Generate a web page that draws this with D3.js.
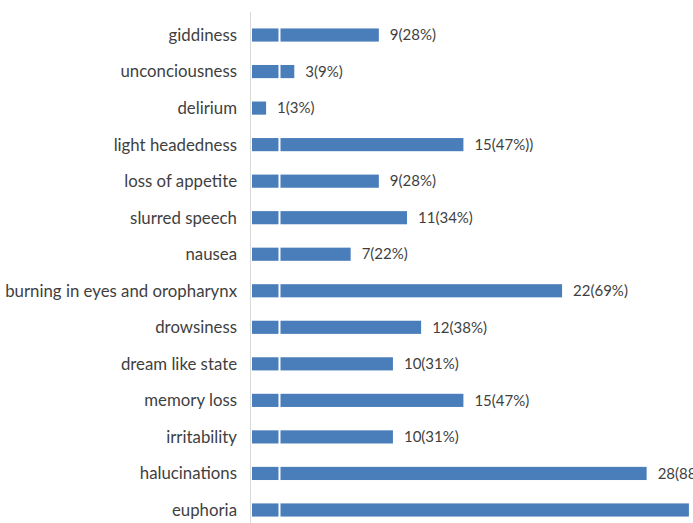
<!DOCTYPE html>
<html>
<head>
<meta charset="utf-8">
<title>Symptoms</title>
<style>
  body { margin: 0; background: #fff; }
  svg { display: block; overflow: hidden; }
  .cat { font-family: Lato, sans-serif; font-size: 16px; fill: #3f3f3f; }
  .val { font-family: Lato, sans-serif; font-size: 15px; fill: #3f3f3f; }
</style>
</head>
<body>
<div id="chart"></div>
<script src="https://d3js.org/d3.v7.min.js"></script>
<script>
// data, top to bottom
var symptoms = ["giddiness", "unconciousness", "delirium", "light headedness",
  "loss of appetite", "slurred speech", "nausea", "burning in eyes and oropharynx",
  "drowsiness", "dream like state", "memory loss", "irritability",
  "halucinations", "euphoria"];
var counts = [9, 3, 1, 15, 9, 11, 7, 22, 12, 10, 15, 10, 28, 31];
var labels = ["9(28%)", "3(9%)", "1(3%)", "15(47%))", "9(28%)", "11(34%)", "7(22%)",
  "22(69%)", "12(38%)", "10(31%)", "15(47%)", "10(31%)", "28(88%)", "31(97%)"];

var width = 693, height = 523;
var barColor = "#4a7ebb";
var labelRight = 237, labelLeft = 5;

var svg = d3.select("#chart").append("svg")
    .attr("width", width)
    .attr("height", height);

var x = d3.scaleLinear().domain([0, 32]).range([252, 703]);
var y = d3.scaleBand().domain(symptoms).range([16.75, 528.25])
    .paddingInner(0.64).paddingOuter(0.32);

var rows = symptoms.map(function(d, i){ return {name: d, v: counts[i], label: labels[i]}; });

// axis line
svg.append("line")
    .attr("x1", x(0) - 1.5).attr("x2", x(0) - 1.5)
    .attr("y1", 12).attr("y2", height)
    .attr("stroke", "#d9d9d9").attr("stroke-width", 1);

svg.selectAll(".bar")
    .data(rows)
    .enter().append("rect")
    .attr("class", "bar")
    .attr("x", x(0))
    .attr("y", function(d){ return y(d.name); })
    .attr("width", function(d){ return x(d.v) - x(0); })
    .attr("height", y.bandwidth())
    .attr("fill", barColor);

// thin white split that runs through every bar
svg.append("line")
    .attr("x1", x(1.95)).attr("x2", x(1.95))
    .attr("y1", 0).attr("y2", height)
    .attr("stroke", "#fff").attr("stroke-width", 2);

var cats = svg.selectAll(".cat")
    .data(rows)
    .enter().append("text")
    .attr("class", "cat")
    .attr("x", labelRight)
    .attr("y", function(d){ return y(d.name) + y.bandwidth() / 2; })
    .attr("dy", "0.35em")
    .attr("text-anchor", "end")
    .text(function(d){ return d.name; });

// size the labels so the longest one fills the left margin
var widest = d3.max(cats.nodes(), function(n){ return n.getComputedTextLength(); });
cats.style("font-size", (16 * (labelRight - labelLeft) / widest) + "px");

svg.selectAll(".val")
    .data(rows)
    .enter().append("text")
    .attr("class", "val")
    .attr("x", function(d){ return x(d.v) + 11; })
    .attr("y", function(d){ return y(d.name) + y.bandwidth() / 2; })
    .attr("dy", "0.35em")
    .text(function(d){ return d.label; });
</script>
</body>
</html>
